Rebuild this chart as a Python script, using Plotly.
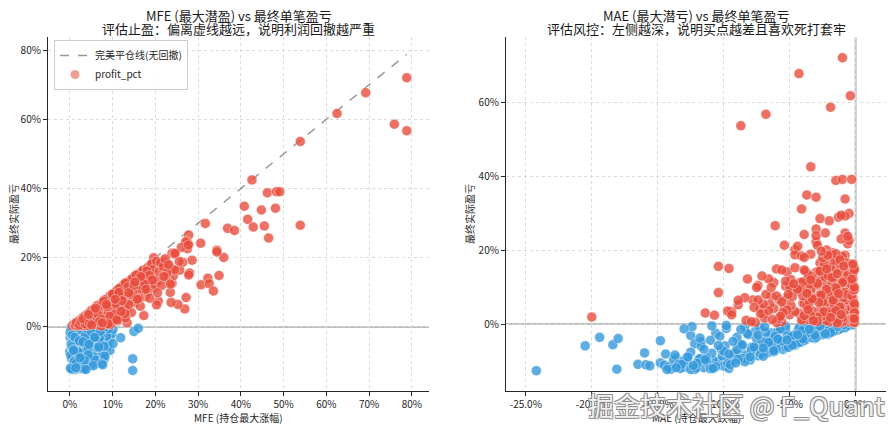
import plotly.graph_objects as go

# every trade: max favourable excursion, max adverse excursion, final profit (all in %)
mfe = [
    78.8, 69.2, 62.5, 75.9, 78.8, 53.9, 42.6, 46.2, 48.3, 49.1, 40.8, 44.8, 48.1, 41.6,
    31.7, 36.9, 38.5, 42.9, 45.5, 53.9, 46.5, 27.8, 30.6, 36.0, 34.4, 34.4, 28.6, 34.9,
    32.3, 30.7, 32.6, 33.6, 27.2, 26.9, 25.3, 23.7, 17.3, 28.0, 27.8, 23.9, 23.5, 23.9,
    24.5, 26.4, 25.7, 24.2, 27.8, 27.4, 27.5, 22.4, 20.7, 20.3, 12.0, 10.5, 8.0, 6.5,
    5.0, 19.6,
    27.1, 26.1, 27.7, 24.6, 25.6, 22.1, 22.8, 21.1, 23.9, 24.5,
    0.6, 1.0, 1.3, 1.6, 1.9, 2.2, 2.0, 2.5, 2.8, 3.0, 3.2, 3.5, 3.7, 3.9, 3.4,
    4.2, 4.4, 4.6, 4.8, 4.1, 5.0, 5.2, 5.4, 5.6, 5.8, 5.3, 5.9,
    6.1, 6.3, 6.5, 6.7, 6.9, 6.2, 6.6, 6.8, 7.0, 7.2, 7.4, 7.6, 7.8, 7.1, 7.5, 7.9,
    8.1, 8.3, 8.5, 8.7, 8.9, 8.2, 8.6, 8.8, 9.0, 9.2, 9.4, 9.6, 9.8, 9.3, 9.7, 9.1,
    10.1, 10.3, 10.5, 10.7, 10.9, 10.2, 10.6, 10.8, 11.1, 11.3, 11.5, 11.7, 11.9, 11.4, 11.8,
    12.1, 12.3, 12.5, 12.7, 12.9, 12.4, 12.8, 13.1, 13.3, 13.5, 13.7, 13.9, 13.4, 13.2,
    14.1, 14.3, 14.5, 14.7, 14.9, 14.4, 15.1, 15.4, 15.7, 15.9, 15.3, 15.8,
    16.1, 16.4, 16.7, 16.9, 16.5, 17.1, 17.4, 17.7, 17.9, 17.6,
    18.2, 18.5, 18.8, 18.3, 18.9, 19.2, 19.5, 19.8, 19.4, 19.9,
    20.3, 20.6, 20.9, 21.2, 21.5, 21.9, 22.3, 22.7, 23.1, 23.5, 22.0, 20.5,
    3.5, 4.0, 2.8, 3.0, 5.5,
    1.5, 2.3, 3.3, 4.0, 4.9, 5.7, 6.4, 7.3, 8.0, 8.4, 9.5, 10.4, 11.0, 11.6, 12.6, 13.6,
    14.6, 15.5, 16.3, 17.2, 18.0, 12.2, 9.9, 6.0,
    2.6, 3.6, 4.3, 5.1, 5.5, 6.3, 7.0, 7.7, 8.4, 9.0, 9.9, 10.4, 10.9, 11.6, 12.0,
    12.6, 13.0, 13.8, 14.2, 14.8, 15.6, 16.2, 16.8, 17.5, 18.6, 19.3, 9.5, 7.4, 11.2, 13.0,
    3.1, 4.6, 5.7, 6.5, 7.3, 7.9, 8.7, 9.4, 10.0, 10.8, 11.5, 12.2, 12.9, 13.6, 14.3,
    15.0, 15.8, 16.6, 17.8, 18.7, 6.9, 9.0, 11.0,
    4.4, 6.0, 7.6, 8.6, 10.6, 12.0, 13.8, 15.2, 5.1,
    # losing trades
    0.2, 0.5, 0.1, 0.8, 0.3, 1.2, 0.0, 0.6, 0.4, 0.9, 0.2, 1.4, 0.7, 2.5, 1.8,
    1.1, 1.6, 2.0, 2.4, 1.9, 2.8, 2.2, 3.1, 3.5, 2.9, 3.3,
    3.7, 4.1, 4.5, 3.9, 4.8, 4.3, 5.1, 5.5, 4.7, 5.9, 5.3, 6.2,
    6.0, 6.4, 6.8, 7.1, 6.6, 7.4, 7.0, 6.9, 7.7, 8.1,
    8.4, 8.8, 9.2, 8.6, 9.5, 9.0, 9.8, 8.9, 9.4, 10.1,
    1.5, 2.7, 3.0, 4.0, 5.0, 5.7, 2.1, 3.6, 6.5, 1.0, 7.6, 0.9, 3.4, 2.3, 7.9, 5.4, 6.1, 0.6,
    0.3, 1.0, 2.9, 4.9, 5.6, 0.4, 3.8, 7.3, 1.4, 2.6, 6.3, 4.2, 0.7, 8.3,
    14.7, 3.0, 4.0, 2.5, 5.5, 1.2, 2.0, 3.2, 1.7, 0.8, 2.6, 4.4, 1.3, 2.4, 3.8,
    11.9, 10.1, 15.0, 16.0, 14.7, 5.0, 2.2, 0.5, 3.0, 1.9, 4.6,
    0.5, 1.2, 2.2, 3.2, 4.4, 0.8, 5.8, 1.7, 2.8, 6.7, 0.3, 3.9, 7.8, 1.5, 4.6,
    2.4, 5.2, 0.2, 6.4, 3.5, 8.6, 1.3, 4.1, 7.0, 2.7, 5.6, 0.9, 9.1, 3.7, 6.6,
    1.8, 4.8, 2.9, 8.2, 0.6, 3.3, 5.0, 1.1, 2.0, 3.0, 4.2, 0.4, 6.2, 7.2, 0.9,
    2.5, 5.3, 8.0, 1.6, 3.9, 6.9, 2.1, 0.1, 1.9, 4.7, 0.7, 5.9, 2.3, 7.4, 1.0,
    0.3, 1.4, 2.6, 0.6, 3.6, 4.0, 1.2, 5.0, 2.2, 6.0, 0.5, 3.1, 7.1, 1.9, 4.5,
    0.8, 5.8, 2.8, 8.0, 1.5, 4.3, 6.8, 0.2, 3.4, 5.5, 2.4, 7.7, 1.4, 3.8, 0.9,
]
mae = [
    -1.0, -4.3, -0.4, -1.9, -6.8, -8.7, -3.4, -1.5, -1.0, -0.3, -3.7, -0.8, -3.0, -4.1,
    -0.5, -2.7, -2.0, -1.3, -0.8, -1.1, -3.0, -6.1, -3.9, -4.6, -3.0, -0.6, -1.8, -6.0,
    -5.2, -8.2, -3.5, -7.4, -10.4, -8.9, -7.8, -8.4, -9.4, -10.4, -9.6, -2.5, -4.9, -5.4,
    -4.4, -4.6, -2.2, -1.5, -3.0, -0.8, -0.5, -3.8, -6.4, -8.9, -11.4, -10.7, -9.7, -9.4,
    -20.0, -2.2,
    -2.3, -1.1, -0.6, -2.9, -3.4, -1.9, -4.1, -0.8, -1.4, -2.7,
    -0.1, -0.3, -0.5, -0.2, -0.8, -0.4, -1.1, -0.6, -1.4, -0.3, -2.0, -0.9, -1.6, -0.2, -2.6,
    -1.2, -3.1, -0.5, -2.2, -4.0, -0.7, -1.8, -3.6, -0.4, -2.7, -5.0, -1.0,
    -0.9, -2.4, -4.3, -1.3, -3.3, -0.2, -5.6, -2.0, -0.6, -1.7, -3.0, -4.6, -0.9, -2.8, -6.2, -1.4,
    -0.3, -2.1, -3.8, -1.1, -5.2, -2.9, -0.7, -4.0, -1.5, -3.3, -0.5, -2.5, -6.5, -1.9, -4.4, -0.9,
    -1.2, -2.8, -0.4, -5.4, -3.2, -7.0, -1.7, -0.8, -2.3, -0.6, -3.9, -1.4, -4.8, -2.0, -0.2,
    -1.8, -3.6, -0.9, -5.8, -2.6, -1.1, -4.2, -0.7, -2.9, -6.0, -1.6, -3.4, -0.4, -4.9,
    -2.2, -1.0, -3.7, -0.5, -5.0, -7.2, -1.3, -2.7, -4.5, -0.8, -3.1, -6.2,
    -1.9, -0.6, -3.5, -2.4, -5.6, -1.2, -3.0, -0.9, -4.6, -2.0,
    -1.6, -3.3, -0.4, -5.3, -2.5, -1.0, -2.8, -4.0, -0.7, -6.6,
    -1.5, -3.6, -0.3, -2.1, -4.9, -1.2, -2.6, -0.9, -3.9, -1.7, -5.6, -7.5,
    -8.3, -7.6, -6.9, -6.0, -7.2,
    -0.1, -0.2, -0.1, -0.1, -0.3, -0.1, -0.2, -0.1, -0.3, -0.1, -0.2, -0.1, -0.3, -0.1, -0.2, -0.1,
    -0.2, -0.1, -0.3, -0.1, -0.2, -0.1, -0.2, -0.1,
    -1.0, -1.3, -2.4, -1.6, -2.9, -1.1, -2.5, -1.8, -2.7, -1.2, -2.2, -1.5, -2.6, -1.0, -2.8,
    -1.4, -2.3, -1.7, -2.9, -1.5, -2.1, -1.3, -2.7, -1.8, -2.2, -1.4, -2.9, -1.4, -1.9, -1.1,
    -3.4, -4.1, -3.7, -5.2, -3.9, -4.8, -3.5, -5.5, -4.2, -3.3, -5.0, -4.0, -3.6, -5.3, -4.4,
    -3.4, -5.1, -3.9, -4.7, -3.7, -5.8, -3.2, -5.7,
    -6.6, -7.0, -6.3, -7.4, -6.8, -7.7, -6.4, -7.1, -7.9,
    # losing trades
    -1.0, -2.3, -3.5, -4.4, -5.8, -6.5, -7.8, -8.6, -9.5, -10.4, -11.5, -12.2, -10.0, -9.6, -8.0,
    -1.6, -2.9, -3.8, -5.1, -6.1, -7.1, -7.4, -8.9, -10.8, -11.1, -13.0,
    -0.8, -2.0, -3.2, -4.0, -4.9, -6.7, -5.5, -7.9, -8.3, -9.2, -11.9, -12.8,
    -1.2, -2.6, -3.6, -4.6, -5.9, -6.9, -7.7, -9.9, -10.9, -11.3,
    -0.5, -1.8, -2.7, -3.9, -5.2, -6.3, -7.6, -8.8, -10.2, -11.7,
    -3.0, -4.2, -5.3, -6.4, -7.3, -8.1, -9.0, -9.8, -10.6, -11.0, -0.3, -1.3, -2.1, -1.9, -4.3, -3.1, -4.6, -5.3,
    -0.5, -0.9, -1.1, -1.5, -2.4, -2.8, -3.4, -3.9, -4.7, -5.9, -6.1, -7.0, -6.6, -8.4,
    -24.2, -20.5, -19.4, -18.4, -18.0, -18.1, -16.5, -16.0, -14.8, -15.9, -15.6, -14.4, -14.8, -14.5, -14.2,
    -12.5, -12.4, -13.0, -9.8, -13.6, -12.2, -12.5, -12.5, -13.8, -13.4, -11.8,
    -0.4, -0.7, -1.2, -1.6, -2.2, -2.5, -2.9, -3.3, -3.7, -4.1, -4.5, -4.9, -5.3, -5.6, -6.0,
    -6.4, -6.8, -7.2, -7.5, -7.9, -8.2, -8.6, -9.0, -9.3, -9.7, -10.1, -10.6, -10.9, -11.3, -11.7,
    -12.1, -12.8, -13.3, -13.7, -14.0, -11.0, -9.5, -8.4, -7.0, -6.2, -5.1, -4.2, -3.0, -2.1, -1.7,
    -0.8, -0.6, -1.5, -6.9, -8.7, -10.3, -11.8, -2.0, -3.9, -5.9, -7.7, -8.9, -10.0, -12.0, -13.0,
    -0.2, -0.9, -1.4, -1.9, -2.3, -2.7, -3.1, -3.5, -4.0, -4.4, -4.8, -5.2, -5.7, -6.2, -6.6,
    -7.0, -7.4, -8.0, -8.6, -9.1, -9.6, -10.4, -10.8, -11.4, -12.3, -12.7, -13.2, -13.6, -14.3, -11.5,
]
profit = [
    72.0, 67.7, 61.7, 58.6, 56.7, 53.6, 42.5, 38.8, 39.1, 39.1, 34.9, 33.8, 34.3, 31.1,
    29.9, 28.5, 27.9, 28.9, 29.2, 29.4, 25.7, 26.6, 24.2, 20.1, 22.2, 21.7, 19.3, 14.9,
    14.1, 12.2, 12.5, 10.4, 8.5, 5.2, 6.5, 7.1, 3.3, 15.6, 15.0, 12.6, 10.0, 21.3,
    21.0, 18.7, 16.4, 14.8, 23.9, 24.6, 22.6, 14.2, 7.5, 6.4, 3.0, 2.4, 3.5, 2.5,
    1.9, 20.0,
    24.6, 23.0, 23.7, 21.3, 18.9, 18.9, 18.4, 18.6, 16.8, 16.5,
    0.4, 0.8, 0.5, 1.4, 1.0, 1.9, 0.3, 2.1, 1.2, 2.7, 0.6, 3.1, 1.8, 3.5, 2.4,
    3.8, 2.0, 4.1, 0.9, 1.5, 4.5, 3.2, 1.2, 5.1, 4.0, 2.5, 2.0,
    5.6, 4.6, 2.9, 6.0, 3.6, 1.0, 0.6, 5.2, 6.4, 5.0, 6.8, 3.4, 7.1, 1.8, 4.2, 2.6,
    7.5, 6.0, 4.8, 8.1, 7.0, 1.2, 3.9, 5.6, 8.4, 6.8, 9.0, 2.2, 5.3, 7.6, 8.9, 0.8,
    9.4, 7.2, 9.9, 4.4, 10.2, 2.8, 6.1, 8.6, 10.4, 8.0, 5.5, 11.0, 9.0, 3.4, 7.0,
    11.5, 9.8, 12.0, 6.6, 8.2, 4.6, 11.2, 12.4, 10.6, 7.6, 13.0, 9.1, 1.2, 5.0,
    13.5, 11.7, 8.8, 14.0, 10.5, 4.2, 14.6, 12.6, 9.6, 13.8, 7.0, 11.2,
    15.4, 13.2, 10.8, 15.9, 6.0, 16.4, 14.0, 11.6, 15.2, 8.8,
    17.2, 12.9, 15.6, 10.2, 17.9, 18.3, 14.3, 11.4, 16.6, 12.2,
    19.0, 13.4, 16.0, 18.6, 12.0, 17.4, 19.7, 15.7, 18.0, 12.4, 14.6, 9.9,
    1.0, 0.5, 1.6, 0.4, 2.8,
    1.2, 0.6, 2.9, 0.4, 4.4, 3.0, 6.1, 4.8, 7.7, 2.0, 9.1, 5.5, 10.6, 9.3, 12.2, 10.0,
    13.9, 15.0, 12.1, 14.7, 16.2, 3.1, 1.5, 1.4,
    1.6, 0.9, 3.3, 4.8, 1.9, 3.9, 6.0, 3.1, 7.9, 4.6, 9.4, 3.6, 7.8, 11.2, 5.9,
    9.0, 12.7, 6.5, 11.0, 9.8, 13.1, 8.2, 14.3, 12.6, 14.9, 13.6, 0.7, 0.3, 1.8, 2.6,
    2.3, 1.1, 5.0, 3.8, 2.3, 7.4, 5.9, 3.1, 9.5, 6.8, 10.0, 7.6, 3.9, 11.6, 9.4,
    12.0, 8.0, 14.6, 10.9, 8.3, 1.5, 0.9, 2.1,
    3.6, 5.4, 1.2, 6.5, 8.0, 4.5, 9.9, 13.0, 0.6,
    # losing trades
    -0.6, -1.8, -3.0, -2.1, -5.0, -4.2, -7.1, -6.0, -9.2, -10.0, -11.8, -12.3, -11.4, -12.0, -9.7,
    -1.1, -2.6, -4.3, -3.5, -6.8, -5.5, -8.6, -7.4, -9.9, -11.0, -11.7,
    -0.4, -1.5, -2.3, -4.6, -5.6, -3.8, -6.9, -6.3, -8.4, -8.0, -9.6, -10.3,
    -0.9, -2.0, -3.2, -4.0, -5.2, -7.3, -6.6, -5.9, -7.9, -9.1,
    -0.3, -0.8, -1.4, -2.7, -3.0, -4.3, -1.9, -5.4, -6.8, -4.8,
    -0.2, -0.7, -1.6, -2.4, -0.9, -2.9, -3.6, -1.2, -2.5, -4.4, -0.2, -1.6, -2.8, -0.3, -1.1, -3.9, -5.7, -6.3,
    -0.2, -0.8, -0.3, -1.0, -0.6, -2.2, -1.3, -0.5, -3.1, -2.0, -3.3, -4.9, -7.7, -0.7,
    -12.6, -5.9, -3.6, -5.6, -3.9, -12.2, -10.9, -7.8, -4.5, -11.0, -11.3, -8.1, -10.5, -11.1, -11.6,
    -3.1, -0.7, -1.3, -0.4, -9.2, -5.3, -7.6, -12.3, -9.7, -10.8, -9.3,
    -0.3, -0.6, -1.3, -1.8, -1.2, -2.9, -0.9, -3.7, -2.5, -1.8, -5.2, -3.4, -0.6, -4.6, -6.8,
    -5.8, -2.2, -8.1, -4.0, -7.0, -2.6, -9.3, -6.9, -4.7, -10.6, -8.6, -11.5, -0.5, -10.1, -6.0,
    -11.9, -9.0, -12.0, -8.4, -12.2, -12.1, -11.0, -10.2, -8.7, -7.5, -6.3, -5.0, -3.6, -2.5, -2.0,
    -1.0, -0.4, -0.2, -0.8, -1.5, -3.3, -3.8, -1.6, -4.4, -4.1, -6.2, -9.5, -7.3, -10.6, -10.0,
    -0.1, -0.2, -0.7, -2.3, -2.6, -0.5, -3.0, -1.4, -4.0, -2.9, -5.7, -4.3, -1.3, -7.2, -5.0,
    -6.5, -3.0, -8.9, -5.6, -10.5, -8.1, -5.8, -12.0, -9.6, -11.2, -8.9, -10.9, -11.8, -12.3, -6.8,
]
assert len(mfe) == len(mae) == len(profit)

left_xticks = [0, 10, 20, 30, 40, 50, 60, 70, 80]
left_yticks = [0, 20, 40, 60, 80]
right_xticks = [-25, -20, -15, -10, -5, 0]
right_yticks = [0, 20, 40, 60]

FONT = "Noto Sans CJK SC"
RED = "rgba(231,76,60,0.8)"
BLUE = "rgba(52,152,219,0.8)"

# the page body adds an 8px offset, so the figure is drawn 8px smaller
W, H = 888, 423


def px(x):
    return (x - 8) / W


def py(y):
    return 1 - (y - 8) / H


win = [i for i, p in enumerate(profit) if p > 0]
loss = [i for i, p in enumerate(profit) if p <= 0]

fig = go.Figure()

peak = max(mfe)
fig.add_trace(go.Scatter(
    x=[0, peak], y=[0, peak], mode="lines", name="完美平仓线(无回撤)",
    line=dict(color="rgba(110,110,110,0.7)", width=1.5, dash="dash"),
    xaxis="x", yaxis="y", hoverinfo="skip",
))
# legend swatch, seaborn shows the hue marker in a paler tone
fig.add_trace(go.Scatter(
    x=[None], y=[None], mode="markers", name="profit_pct",
    marker=dict(color="rgba(240,140,132,0.85)", size=9),
    xaxis="x", yaxis="y",
))

for idx, col in ((loss, BLUE), (win, RED)):
    mk = dict(color=col, size=10, line=dict(color="rgba(255,255,255,0.7)", width=0.6))
    fig.add_trace(go.Scatter(
        x=[mfe[i] for i in idx], y=[profit[i] for i in idx], mode="markers",
        marker=mk, showlegend=False, xaxis="x", yaxis="y",
    ))
    fig.add_trace(go.Scatter(
        x=[mae[i] for i in idx], y=[profit[i] for i in idx], mode="markers",
        marker=mk, showlegend=False, xaxis="x2", yaxis="y2",
    ))

axis_common = dict(
    showline=True, linecolor="#262626", linewidth=1.2, mirror=False,
    ticks="outside", ticklen=4, tickcolor="#262626", tickwidth=1,
    showgrid=True, gridcolor="#dadada", gridwidth=0.8, griddash="3px,3px",
    zeroline=False, automargin=False,
    tickfont=dict(family=FONT, size=10, color="#262626"),
)

fig.update_layout(
    width=W, height=H, template="none",
    margin=dict(l=0, r=0, t=0, b=0),
    paper_bgcolor="white", plot_bgcolor="white",
    font=dict(family=FONT, color="#262626"),
    xaxis=dict(domain=[px(48), px(429)], range=[-5.1, 84],
               tickvals=left_xticks, ticktext=[f"{v}%" for v in left_xticks], **axis_common),
    yaxis=dict(domain=[py(391), py(37)], range=[-18.5, 83.8],
               tickvals=left_yticks, ticktext=[f"{v}%" for v in left_yticks], **axis_common),
    xaxis2=dict(domain=[px(506), px(886)], range=[-26.5, 2.3], anchor="y2",
                tickvals=right_xticks, ticktext=[f"{v:.1f}%" for v in right_xticks], **axis_common),
    yaxis2=dict(domain=[py(391), py(37)], range=[-18.1, 77.6], anchor="x2",
                tickvals=right_yticks, ticktext=[f"{v}%" for v in right_yticks], **axis_common),
    legend=dict(
        x=px(54), y=py(40), xanchor="left", yanchor="top",
        bgcolor="rgba(255,255,255,0.85)", bordercolor="#cccccc", borderwidth=1,
        font=dict(family=FONT, size=10, color="#262626"),
        tracegroupgap=0, itemwidth=30,
    ),
    showlegend=True,
)

# zero reference lines
fig.add_shape(type="line", xref="x domain", yref="y", x0=0, x1=1, y0=0, y1=0,
              line=dict(color="rgba(128,128,128,0.5)", width=2), layer="below")
fig.add_shape(type="line", xref="x2 domain", yref="y2", x0=0, x1=1, y0=0, y1=0,
              line=dict(color="rgba(128,128,128,0.5)", width=2), layer="below")
fig.add_shape(type="line", xref="x2", yref="y2 domain", x0=0, x1=0, y0=0, y1=1,
              line=dict(color="rgba(128,128,128,0.5)", width=2), layer="below")

titles = [
    (238.5, "MFE (最大潜盈) vs 最终单笔盈亏", "评估止盈：偏离虚线越远，说明利润回撤越严重"),
    (696, "MAE (最大潜亏) vs 最终单笔盈亏", "评估风控：左侧越深，说明买点越差且喜欢死打套牢"),
]
for cx, line1, line2 in titles:
    for cy, txt in ((15, line1), (29, line2)):
        fig.add_annotation(x=px(cx), y=py(cy), xref="paper", yref="paper",
                           xanchor="center", yanchor="middle", showarrow=False, text=txt,
                           borderpad=0, font=dict(family=FONT, size=13, color="#1a1a1a"))

for cx, txt in ((238.5, "MFE (持仓最大涨幅)"), (696, "MAE (持仓最大跌幅)")):
    fig.add_annotation(x=px(cx), y=py(417), xref="paper", yref="paper",
                       xanchor="center", yanchor="middle", showarrow=False, text=txt,
                       font=dict(family=FONT, size=10, color="#262626"))

for cx in (13, 469):
    fig.add_annotation(x=px(cx), y=py(214), xref="paper", yref="paper",
                       xanchor="center", yanchor="middle", showarrow=False,
                       text="最终实际盈亏", textangle=-90, borderpad=0,
                       font=dict(family=FONT, size=10, color="#262626"))

# site watermark stamped on the source picture
fig.add_annotation(
    x=px(736), y=py(404), xref="paper", yref="paper",
    xanchor="center", yanchor="middle", showarrow=False,
    text="掘金技术社区 @ F_Quant",
    font=dict(family=FONT, size=26, color="rgba(255,255,255,0.9)",
              shadow="1px 1px 0 #8a8a8a, -1px -1px 0 #8a8a8a, 1px -1px 0 #8a8a8a, -1px 1px 0 #8a8a8a"),
)

fig.write_html("out.html")
